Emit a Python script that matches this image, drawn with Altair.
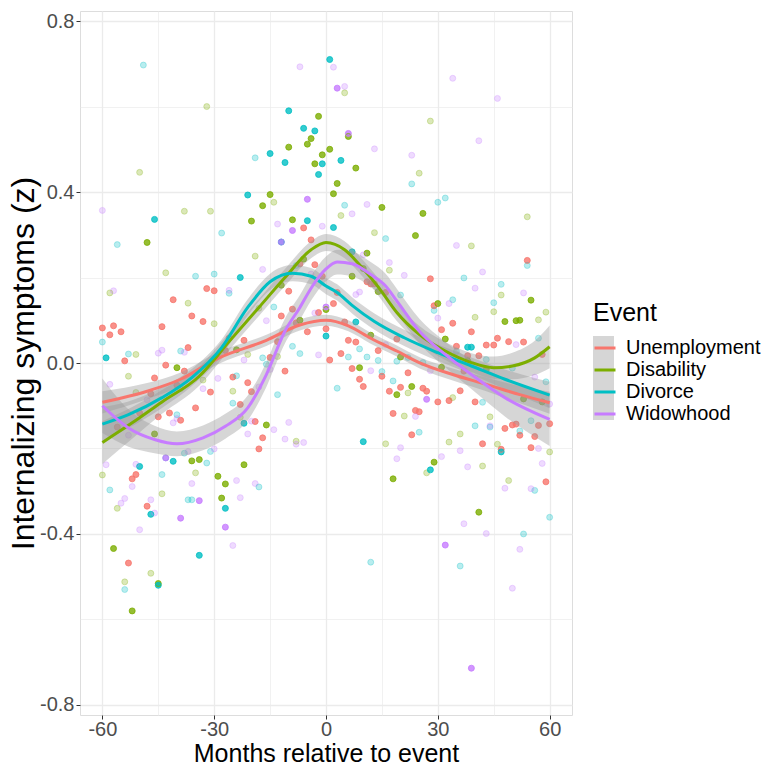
import altair as alt
import pandas as pd

events = ["Unemployment", "Disability", "Divorce", "Widowhood"]
colors = ["#F8766D", "#7CAE00", "#00BFC4", "#C77CFF"]

# (month, z, weight) -- weight 1 = strong point, 0.35 = faint point
unemployment_points = [
    (-60, 0.082, 1), (-58, 0.066, 1), (-57, 0.087, 1), (-56, -0.15, 1), (-55, 0.073, 1),
    (-54, 0.005, 1), (-53, -0.468, 1), (-52, -0.271, 1), (-51, -0.261, 1), (-50, -0.117, 1),
    (-48, -0.335, 1), (-47, -0.072, 1), (-46, -0.035, 1), (-45, -0.126, 1), (-44, 0.085, 1),
    (-43, -0.005, 1), (-42, -0.117, 1), (-41, 0.148, 1), (-40, -0.052, 1), (-39, -0.134, 1),
    (-38, -0.019, 1), (-37, 0.036, 1), (-36, 0.11, 1), (-35, -0.105, 1), (-33, 0.097, 1),
    (-32, 0.174, 1), (-31, -0.068, 1), (-30, 0.169, 1), (-27, 0.029, 1), (-26, 0.058, 1),
    (-25, -0.033, 1), (-23, -0.097, 1), (-22, 0.053, 1), (-21, -0.046, 1), (-20, -0.067, 1),
    (-19, -0.137, 1), (-18, -0.201, 1), (-17, -0.175, 1), (-15, 0.013, 1), (-13, 0.05, 1),
    (-12, 0.11, 1), (-11, -0.019, 1), (-10, 0.168, 1), (-9, 0.126, 1), (-8, 0.094, 1),
    (-7, 0.232, 1), (-6, 0.316, 1), (-5, 0.073, 1), (-4, 0.288, 1), (-3, 0.23, 1),
    (-2, 0.118, 1), (-1, 0.203, 1), (0, 0.08, 1), (1, 0.007, 1), (2, 0.139, 1),
    (3, 0.165, 1), (4, 0.022, 1), (5, 0.096, 1), (6, 0.053, 1), (7, -0.013, 1),
    (8, 0.049, 1), (9, -0.038, 1), (10, -0.055, 1), (11, 0.19, 1), (12, 0.185, 1),
    (13, 0.185, 1), (14, 0.029, 1), (15, -0.031, 1), (16, 0.165, 1), (17, -0.066, 1),
    (18, -0.118, 1), (19, 0.056, 1), (20, -0.057, 1), (22, -0.023, 1), (23, -0.168, 1),
    (24, -0.111, 1), (25, -0.114, 1), (26, -0.059, 1), (27, -0.066, 1), (28, 0.197, 1),
    (29, 0.134, 1), (30, -0.091, 1), (31, 0.078, 1), (33, -0.088, 1), (34, 0.093, 1),
    (35, 0.039, 1), (36, -0.065, 1), (37, -0.019, 1), (38, 0.017, 1), (39, 0.073, 1),
    (40, -0.091, 1), (41, 0.017, 1), (42, -0.189, 1), (43, 0.042, 1), (45, 0.042, 1),
    (46, 0.058, 1), (47, -0.202, 1), (48, -0.153, 1), (49, 0.05, 1), (50, -0.145, 1),
    (51, -0.143, 1), (52, -0.169, 1), (53, 0.049, 1), (54, 0.24, 1), (55, -0.198, 1),
    (56, -0.172, 1), (57, -0.146, 1), (58, 0.02, 1), (59, -0.278, 1), (60, -0.142, 1),
]

disability_points = [
    (-60, -0.262, 0.35), (-58, 0.164, 0.35), (-57, -0.434, 1), (-56, -0.34, 0.35), (-54, -0.512, 0.35),
    (-53, -0.031, 0.35), (-52, -0.58, 1), (-51, 0.02, 0.35), (-51, -0.069, 0.35), (-50, 0.446, 0.35),
    (-48, 0.282, 1), (-47, -0.492, 0.35), (-46, -0.166, 1), (-45, -0.516, 1), (-44, -0.306, 0.35),
    (-43, 0.211, 0.35), (-40, -0.011, 1), (-39, -0.06, 0.35), (-38, 0.355, 0.35), (-37, 0.14, 0.35),
    (-36, -0.229, 1), (-35, -0.257, 0.35), (-34, -0.226, 1), (-33, -0.04, 0.35), (-32, 0.60, 0.35),
    (-31, 0.355, 0.35), (-30, 0.092, 0.35), (-29, -0.265, 1), (-28, -0.316, 1), (-27, -0.283, 1),
    (-25, -0.066, 0.35), (-24, 0.031, 1), (-23, -0.127, 0.35), (-22, -0.238, 1), (-21, 0.02, 0.35),
    (-20, 0.332, 1), (-19, 0.25, 0.35), (-18, 0.128, 0.35), (-17, 0.368, 1), (-16, -0.145, 1),
    (-15, 0.394, 1), (-14, 0.376, 0.35), (-13, 0.015, 0.35), (-12, 0.182, 1), (-10, 0.505, 1),
    (-9, 0.335, 1), (-8, -0.183, 0.35), (-7, 0.1, 1), (-6, 0.243, 1), (-5, 0.512, 1),
    (-4, 0.525, 1), (-3, 0.466, 1), (-2, 0.577, 1), (-1, 0.487, 1), (0, 0.125, 1),
    (1, 0.50, 1), (2, 0.396, 1), (3, 0.42, 1), (4, 0.345, 0.35), (5, 0.632, 0.35),
    (6, 0.53, 1), (7, 0.203, 1), (8, 0.456, 1), (9, -0.011, 1), (10, 0.221, 1),
    (11, 0.257, 1), (12, 0.065, 1), (13, 0.305, 0.35), (14, 0.167, 1), (15, 0.364, 1),
    (16, -0.189, 0.35), (17, 0.217, 0.35), (18, -0.271, 1), (19, -0.074, 1), (20, 0.014, 1),
    (21, -0.124, 0.35), (22, -0.07, 0.35), (23, -0.055, 1), (24, 0.298, 1), (25, 0.444, 0.35),
    (26, 0.35, 1), (27, -0.257, 0.35), (28, 0.566, 0.35), (29, -0.232, 1), (30, 0.139, 1),
    (31, -0.01, 1), (32, 0.056, 1), (33, -0.185, 0.35), (34, -0.081, 0.35), (36, -0.166, 0.35),
    (38, 0.005, 1), (39, 0.274, 0.35), (40, 0.107, 0.35), (41, -0.349, 1), (42, -0.241, 0.35),
    (43, -0.015, 1), (44, -0.126, 0.35), (45, 0.12, 0.35), (46, -0.19, 0.35), (47, 0.159, 0.35),
    (48, 0.097, 1), (49, -0.275, 0.35), (51, 0.099, 1), (52, 0.1, 1), (53, -0.084, 1),
    (54, 0.342, 0.35), (55, 0.147, 1), (57, 0.101, 0.35), (58, -0.091, 1), (59, 0.119, 0.35),
    (60, -0.208, 0.35),
]

divorce_points = [
    (-60, 0.049, 0.35), (-59, 0.012, 1), (-58, -0.297, 0.35), (-56, 0.277, 0.35), (-54, -0.53, 0.35),
    (-53, 0.021, 0.35), (-50, -0.242, 1), (-49, 0.697, 0.35), (-47, -0.354, 1), (-46, 0.336, 1),
    (-45, -0.52, 1), (-44, -0.261, 0.35), (-43, -0.222, 0.35), (-41, -0.23, 1), (-40, -0.121, 0.35),
    (-39, 0.028, 0.35), (-38, -0.211, 0.35), (-37, -0.32, 0.35), (-36, -0.32, 0.35), (-35, 0.203, 0.35),
    (-34, -0.45, 1), (-32, -0.234, 0.35), (-31, -0.207, 0.35), (-30, 0.208, 0.35), (-28, 0.304, 0.35),
    (-27, -0.34, 1), (-26, 0.163, 0.35), (-25, -0.094, 0.35), (-24, -0.03, 0.35), (-23, 0.2, 1),
    (-22, -0.141, 1), (-21, 0.393, 1), (-19, 0.48, 0.35), (-18, -0.29, 0.35), (-17, 0.012, 0.35),
    (-16, -0.003, 0.35), (-15, 0.49, 1), (-14, 0.131, 0.35), (-13, -0.074, 0.35), (-12, 0.283, 1),
    (-11, 0.469, 1), (-10, 0.59, 1), (-9, 0.039, 0.35), (-8, 0.228, 0.35), (-7, 0.022, 0.35),
    (-6, 0.549, 1), (-5, 0.333, 1), (-3, 0.543, 1), (-2, 0.441, 1), (-1, 0.466, 1),
    (0, 0.063, 1), (1, 0.71, 1), (2, 0.317, 1), (3, -0.059, 0.35), (4, 0.474, 1),
    (5, 0.369, 0.35), (6, 0.014, 0.35), (7, 0.26, 1), (8, 0.096, 1), (9, 0.033, 0.35),
    (10, -0.184, 1), (11, 0.014, 0.35), (12, -0.466, 0.35), (14, 0.006, 0.35), (15, -0.02, 0.35),
    (16, 0.291, 0.35), (18, -0.042, 0.35), (19, 0.004, 0.35), (20, 0.159, 0.35), (22, 0.013, 0.35),
    (23, 0.419, 0.35), (25, -0.162, 0.35), (26, 0.001, 0.35), (28, -0.25, 1), (29, 0.123, 0.35),
    (30, 0.376, 0.35), (32, 0.386, 0.35), (34, 0.148, 0.35), (35, 0.027, 0.35), (36, -0.475, 0.35),
    (37, 0.199, 0.35), (38, 0.037, 1), (39, 0.037, 1), (40, -0.147, 0.35), (42, -0.092, 0.35),
    (43, 0.008, 0.35), (44, -0.15, 0.35), (45, 0.141, 0.35), (47, 0.184, 0.35), (47, -0.208, 1),
    (50, -0.012, 0.35), (52, -0.159, 0.35), (53, -0.4, 0.35), (54, 0.228, 0.35), (55, -0.135, 0.35),
    (56, -0.298, 0.35), (57, 0.058, 0.35), (59, -0.044, 0.35), (60, -0.361, 0.35),
]

widowhood_points = [
    (-60, 0.357, 0.35), (-59, -0.238, 0.35), (-58, -0.05, 0.35), (-57, 0.169, 0.35), (-55, -0.328, 0.35),
    (-54, -0.317, 0.35), (-53, -0.169, 0.35), (-52, -0.289, 0.35), (-51, -0.237, 0.35), (-50, -0.39, 0.35),
    (-48, -0.086, 0.35), (-47, -0.32, 0.35), (-46, -0.351, 0.35), (-45, 0.023, 0.35), (-44, 0.03, 0.35),
    (-43, -0.222, 1), (-41, -0.14, 0.35), (-40, -0.13, 0.35), (-39, -0.363, 1), (-38, 0.025, 0.35),
    (-37, -0.207, 0.35), (-36, -0.282, 0.35), (-34, -0.322, 1), (-33, -0.06, 0.35), (-30, -0.201, 0.35),
    (-29, -0.036, 0.35), (-27, -0.384, 1), (-26, 0.17, 0.35), (-25, -0.427, 0.35), (-24, -0.275, 0.35),
    (-23, -0.315, 0.35), (-22, 0.007, 0.35), (-21, -0.166, 0.35), (-20, -0.136, 0.35), (-19, -0.282, 0.35),
    (-18, -0.056, 0.35), (-17, 0.219, 0.35), (-16, 0.099, 0.35), (-15, -0.015, 0.35), (-14, -0.156, 0.35),
    (-13, 0.325, 0.35), (-12, 0.283, 1), (-11, -0.178, 0.35), (-10, -0.139, 0.35), (-9, 0.31, 1),
    (-8, -0.19, 0.35), (-7, 0.693, 0.35), (-6, -0.186, 0.35), (-5, 0.383, 1), (-4, 0.208, 0.35),
    (-3, 0.117, 0.35), (-2, 0.019, 0.35), (-1, 0.32, 0.35), (0, 0.131, 1), (2, 0.692, 0.35),
    (3, 0.643, 1), (5, 0.647, 0.35), (6, 0.537, 1), (7, 0.349, 0.35), (8, 0.16, 0.35),
    (9, 0.166, 0.35), (10, 0.253, 0.35), (11, 0.371, 0.35), (12, -0.018, 0.35), (13, 0.501, 0.35),
    (16, 0.043, 0.35), (17, 0.235, 0.35), (19, -0.224, 0.35), (20, -0.198, 0.35), (21, 0.205, 0.35),
    (23, 0.486, 0.35), (24, -0.125, 0.35), (27, -0.085, 1), (28, -0.018, 0.35), (30, 0.105, 0.35),
    (31, -0.219, 0.35), (32, -0.426, 1), (33, 0.139, 0.35), (34, 0.666, 0.35), (35, 0.275, 0.35),
    (36, -0.205, 0.35), (37, -0.376, 0.35), (38, -0.243, 0.35), (39, -0.714, 1), (40, 0.175, 0.35),
    (41, 0.52, 0.35), (42, 0.213, 0.35), (43, -0.399, 0.35), (44, -0.147, 0.35), (46, 0.619, 0.35),
    (48, -0.293, 0.35), (50, -0.527, 0.35), (51, 0.043, 0.35), (52, -0.436, 0.35), (53, 0.164, 0.35),
    (55, -0.294, 0.35), (56, -0.033, 0.35), (57, -0.2, 0.35), (58, -0.235, 0.35), (60, -0.096, 0.35),
]

# smoothed fits: months, fitted value, half-width of grey band
unemployment_fit_months = [-60, -48, -39, -29, -16, -7, 0, 6, 12, 19, 25, 34, 43, 52, 60]
unemployment_fit = [-0.092, -0.066, -0.038, 0.011, 0.053, 0.089, 0.1, 0.087, 0.058, 0.028, 0.001, -0.027, -0.05, -0.074, -0.093]
unemployment_se = [0.026, 0.019, 0.016, 0.014, 0.013, 0.013, 0.013, 0.013, 0.013, 0.013, 0.013, 0.014, 0.016, 0.02, 0.026]

disability_fit_months = [-60, -52, -44, -34, -26, -18, -11, -4, 0, 5, 9, 14, 19, 25, 32, 39, 45, 50, 56, 60]
disability_fit = [-0.186, -0.14, -0.091, -0.031, 0.05, 0.13, 0.2, 0.265, 0.282, 0.265, 0.23, 0.178, 0.118, 0.067, 0.028, 0.001, -0.011, -0.007, 0.012, 0.038]
disability_se = [0.05, 0.037, 0.028, 0.022, 0.02, 0.02, 0.02, 0.02, 0.02, 0.02, 0.02, 0.02, 0.02, 0.02, 0.021, 0.022, 0.026, 0.031, 0.04, 0.05]

divorce_fit_months = [-60, -53, -44, -36, -28, -21, -15, -9, -4, 0, 3, 7, 13, 21, 30, 39, 48, 60]
divorce_fit = [-0.143, -0.121, -0.081, -0.034, 0.036, 0.13, 0.19, 0.21, 0.203, 0.18, 0.165, 0.135, 0.097, 0.059, 0.024, -0.007, -0.038, -0.075]
divorce_se = [0.04, 0.031, 0.024, 0.02, 0.019, 0.019, 0.019, 0.019, 0.019, 0.019, 0.019, 0.019, 0.019, 0.019, 0.019, 0.02, 0.023, 0.031]

widowhood_fit_months = [-60, -53, -46, -40, -33, -27, -21, -16, -11, -7, -4, 0, 3, 7, 12, 16, 19, 25, 32, 39, 48, 60]
widowhood_fit = [-0.1, -0.152, -0.179, -0.189, -0.175, -0.148, -0.105, -0.027, 0.075, 0.13, 0.175, 0.22, 0.236, 0.232, 0.207, 0.18, 0.145, 0.075, 0.02, -0.027, -0.081, -0.132]
widowhood_se = [0.064, 0.044, 0.032, 0.029, 0.029, 0.029, 0.029, 0.029, 0.029, 0.029, 0.029, 0.029, 0.029, 0.029, 0.029, 0.029, 0.029, 0.029, 0.03, 0.034, 0.044, 0.062]

x_grid = [-60, -45, -30, -15, 0, 15, 30, 45, 60]
y_grid = [-0.8, -0.6, -0.4, -0.2, 0.0, 0.2, 0.4, 0.6, 0.8]

# ---- tables ----
pt_rows = []
for ev, pts in zip(events, [unemployment_points, disability_points, divorce_points, widowhood_points]):
    for m, v, w in pts:
        pt_rows.append({"event": ev, "month": m, "z": v, "weight": w})
points_df = pd.DataFrame(pt_rows)

fit_rows = []
fits = [
    (unemployment_fit_months, unemployment_fit, unemployment_se),
    (disability_fit_months, disability_fit, disability_se),
    (divorce_fit_months, divorce_fit, divorce_se),
    (widowhood_fit_months, widowhood_fit, widowhood_se),
]
for ev, (ms, fv, se) in zip(events, fits):
    for m, f, s in zip(ms, fv, se):
        fit_rows.append({"event": ev, "band": ev, "month": m, "fit": f, "lower": f - s, "upper": f + s})
fit_df = pd.DataFrame(fit_rows)

# point colours: data-driven domain (alphabetical), so this hidden legend is not merged with the line legend
color_of = dict(zip(events, colors))
point_range = [color_of[e] for e in sorted(events)]

FONT = "Liberation Sans"

x_scale = alt.Scale(domain=[-66, 66], nice=False, zero=False)
y_scale = alt.Scale(domain=[-0.8235, 0.8235], nice=False, zero=False)

x_axis = alt.Axis(
    values=x_grid,
    title="Months relative to event",
    labelExpr="datum.value % 30 === 0 ? replace(format(datum.value, 'd'), '\u2212', '-') : ''",
    tickOpacity={"condition": {"test": "datum.value % 30 === 0", "value": 1}, "value": 0},
    gridWidth={"condition": {"test": "datum.value % 30 === 0", "value": 1.3}, "value": 0.7},
    labelFontSize=20, titleFontSize=25, titleFontWeight="normal",
    labelColor="#4D4D4D", titleColor="#000000",
    labelFont=FONT, titleFont=FONT,
    tickSize=4, tickColor="#333333", labelPadding=0,
    labelOverlap=False, labelFlush=False, domain=False,
    gridColor="#EBEBEB",
    titleY=46, titleBaseline="alphabetic",
)
y_axis = alt.Axis(
    values=y_grid,
    title="Internalizing symptoms (z)",
    labelExpr="abs(round(datum.value * 10)) % 4 === 0 ? replace(format(datum.value, '.1f'), '\u2212', '-') : ''",
    tickOpacity={"condition": {"test": "abs(round(datum.value * 10)) % 4 === 0", "value": 1}, "value": 0},
    gridWidth={"condition": {"test": "abs(round(datum.value * 10)) % 4 === 0", "value": 1.3}, "value": 0.7},
    labelFontSize=20, titleFontSize=32, titleFontWeight="normal",
    labelColor="#4D4D4D", titleColor="#000000",
    labelFont=FONT, titleFont=FONT,
    tickSize=4, tickColor="#333333", labelPadding=2,
    labelOverlap=False, labelFlush=False, domain=False,
    gridColor="#EBEBEB",
    titleX=-47, titleBaseline="alphabetic",
)

legend_common = dict(
    orient="none", legendX=513, legendY=290, titlePadding=10,
    symbolSize=441, labelFontSize=20, titleFontSize=25, titleFontWeight="normal",
    labelFont=FONT, titleFont=FONT, labelOffset=9, rowPadding=0, padding=0, labelLimit=300,
)

base_pts = alt.Chart(points_df)
pt_enc = dict(
    x=alt.X("month:Q", scale=x_scale, axis=x_axis),
    y=alt.Y("z:Q", scale=y_scale, axis=y_axis),
    color=alt.Color("event:N", scale=alt.Scale(range=point_range), legend=None),
    opacity=alt.Opacity("weight:Q", scale=alt.Scale(domain=[0, 1], range=[0, 0.8]), legend=None),
)
pts_fill = base_pts.mark_circle(size=36).encode(**pt_enc)
pts_ring = base_pts.mark_point(shape="circle", filled=False, size=36, strokeWidth=1).encode(**pt_enc)

# grey key boxes (the se fill) drawn as their own legend underneath the line legend
bands = alt.Chart(fit_df).mark_area(opacity=0.4, interpolate="monotone").encode(
    x=alt.X("month:Q", scale=x_scale),
    y=alt.Y("lower:Q", scale=y_scale),
    y2="upper:Q",
    fill=alt.Fill(
        "band:N",
        scale=alt.Scale(range=["#999999"] * 4),
        legend=alt.Legend(
            title=" ", labelExpr="' '",
            symbolType="square", symbolOpacity=0.4, symbolStrokeWidth=0,
            **legend_common
        ),
    ),
)

lines = alt.Chart(fit_df).mark_line(strokeWidth=3, interpolate="monotone").encode(
    x=alt.X("month:Q", scale=x_scale),
    y=alt.Y("fit:Q", scale=y_scale),
    stroke=alt.Stroke(
        "event:N",
        scale=alt.Scale(domain=events, range=colors),
        legend=alt.Legend(
            title="Event",
            symbolType="stroke", symbolStrokeWidth=3,
            titleColor="#000000", labelColor="#000000", **legend_common
        ),
    ),
)

chart = alt.layer(pts_fill, pts_ring, bands, lines).properties(
    width=492,
    height=704,
    padding={"left": 80, "top": 11, "right": 193, "bottom": 50},
    autosize=alt.AutoSizeParams(type="none"),
    background="#FFFFFF",
).configure_view(
    stroke="#333333", strokeWidth=1
).configure(font=FONT)

chart.save("out.html", embed_options={"renderer": "svg", "actions": False})
